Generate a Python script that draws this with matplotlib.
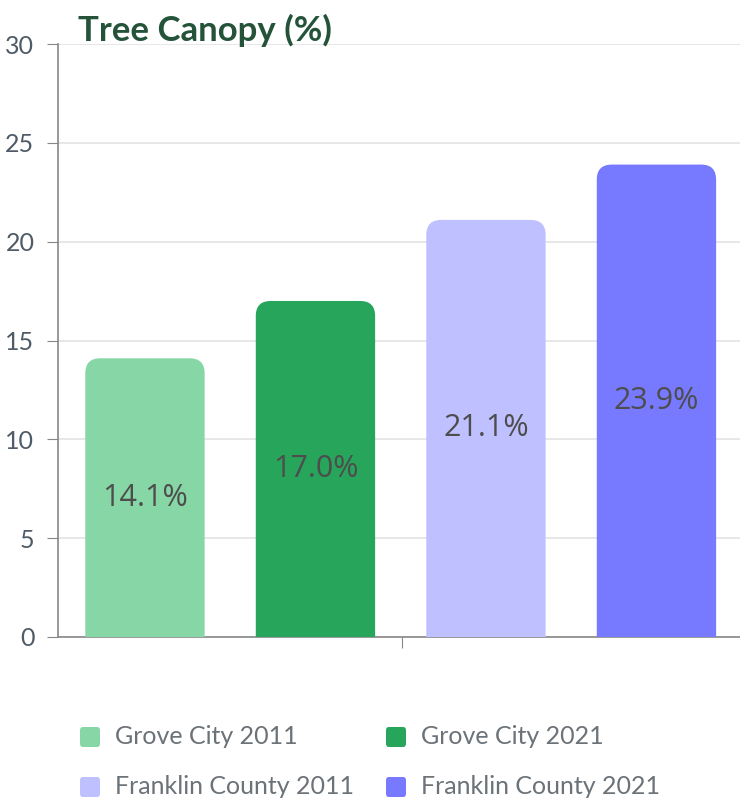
import matplotlib.pyplot as plt
from matplotlib.path import Path
from matplotlib.patches import PathPatch, FancyBboxPatch

labels = ['Grove City 2011', 'Grove City 2021', 'Franklin County 2011', 'Franklin County 2021']
values = [14.1, 17.0, 21.1, 23.9]
colors = ['#86d7a5', '#27a65b', '#bfc0ff', '#7779ff']
yticks = [0, 5, 10, 15, 20, 25, 30]

plt.rcParams['font.family'] = ['Lato', 'DejaVu Sans']

fig = plt.figure(figsize=(7.4, 8), dpi=100)
ax = fig.add_axes([58 / 740, 163 / 800, 682 / 740, 593 / 800])
ax.set_xlim(-0.5, 3.5)
ax.set_ylim(0, 30)


def rounded_bar(ax, x, h, w, color, r_px=15):
    # radius in data units, converted from pixels
    fig_w = ax.get_position().width * fig.get_figwidth() * fig.dpi
    fig_h = ax.get_position().height * fig.get_figheight() * fig.dpi
    rx = r_px * 4.0 / fig_w
    ry = r_px * 30.0 / fig_h
    x0, x1 = x - w / 2, x + w / 2
    verts = [(x0, 0), (x0, h - ry), (x0, h), (x0 + rx, h),
             (x1 - rx, h), (x1, h), (x1, h - ry), (x1, 0), (x0, 0)]
    codes = [Path.MOVETO, Path.LINETO, Path.CURVE3, Path.CURVE3,
             Path.LINETO, Path.CURVE3, Path.CURVE3, Path.LINETO, Path.CLOSEPOLY]
    ax.add_patch(PathPatch(Path(verts, codes), facecolor=color, edgecolor='none', zorder=3))


for i, (v, c) in enumerate(zip(values, colors)):
    rounded_bar(ax, i + 0.01, v, 0.7, c)
    ax.text(i + 0.01, v / 2, f'{v:.1f}%', ha='center', va='center', fontsize=22,
            color='#4d4d4d', family=['Open Sans', 'DejaVu Sans'], zorder=4)

ax.set_yticks(yticks)
ax.set_yticklabels([str(t) for t in yticks], fontsize=18, color='#4f5b66')
ax.set_xticks([1.52])
ax.set_xticklabels([''])
ax.tick_params(axis='y', length=8, color='#888888', pad=9)
ax.tick_params(axis='x', length=8, color='#888888')
ax.grid(axis='y', color='#e3e3e3', lw=1.2, zorder=0)
for s in ['top', 'right']:
    ax.spines[s].set_visible(False)
for s in ['left', 'bottom']:
    ax.spines[s].set_color('#888888')
    ax.spines[s].set_linewidth(1.2)
ax.set_axisbelow(True)

fig.text(78 / 740, 1 - 30 / 800, 'Tree Canopy (%)', fontsize=25, fontweight='bold',
         color='#24533a', ha='left', va='center')

# legend drawn manually in figure pixels
leg_pos = [(80, 737), (386, 737), (80, 787), (386, 787)]
for (px, py), lab, c in zip(leg_pos, labels, colors):
    box = FancyBboxPatch(((px) / 740, (800 - py - 10) / 800), 20 / 740, 20 / 800,
                         boxstyle='round,pad=0,rounding_size=0.004',
                         transform=fig.transFigure, facecolor=c, edgecolor='none')
    fig.patches.append(box)
    fig.text((px + 35) / 740, (800 - py) / 800, lab, fontsize=18, fontweight='normal',
             color='#6b7278', ha='left', va='center')

fig.savefig('out.png', dpi=100)
